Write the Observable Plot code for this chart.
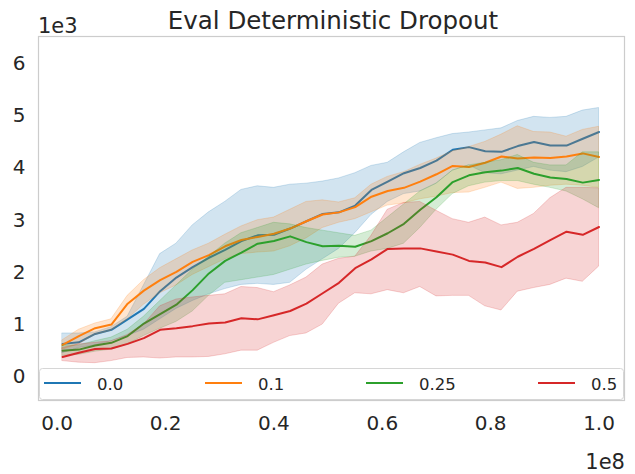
<!DOCTYPE html>
<html><head><meta charset="utf-8">
<script src="https://cdn.jsdelivr.net/npm/d3@7"></script>
<script src="https://cdn.jsdelivr.net/npm/@observablehq/plot@0.6"></script>
<style>
html,body{margin:0;padding:0;background:#fff;}
#chart{width:635px;height:474px;}
</style></head><body><div id="chart"></div>
<script>
// x: environment steps in units of 1e8; y: return in units of 1e3
const steps = [0.01,0.04,0.07,0.10,0.13,0.16,0.19,0.22,0.25,0.28,0.31,0.34,0.37,0.40,0.43,0.46,0.49,0.52,0.55,0.58,0.61,0.64,0.67,0.70,0.73,0.76,0.79,0.82,0.85,0.88,0.91,0.94,0.97,1.00];

const seriesNames = ["0.0","0.1","0.25","0.5"];
const seriesColors = ["#1f77b4","#ff7f0e","#2ca02c","#d62728"];

const mean00 = [0.63,0.66,0.82,0.90,1.10,1.30,1.64,1.90,2.10,2.28,2.43,2.60,2.71,2.72,2.84,2.98,3.12,3.15,3.28,3.58,3.74,3.90,4.00,4.14,4.35,4.40,4.32,4.31,4.42,4.50,4.43,4.43,4.56,4.69];
const high00 = [0.83,0.83,0.85,0.95,1.15,1.75,2.35,2.55,2.90,3.15,3.35,3.58,3.65,3.62,3.68,3.70,3.74,3.80,3.90,4.04,4.10,4.30,4.48,4.57,4.65,4.68,4.72,4.76,4.90,4.98,4.96,4.98,5.10,5.15];
const low00  = [0.45,0.55,0.60,0.68,0.78,0.90,1.10,1.30,1.45,1.58,1.68,1.76,1.78,1.76,1.80,2.05,2.25,2.45,2.75,3.10,3.35,3.50,3.55,3.70,3.95,4.05,3.90,3.88,3.95,4.02,3.95,3.92,4.02,4.20];

const mean01 = [0.61,0.78,0.93,1.00,1.40,1.65,1.85,2.01,2.20,2.33,2.50,2.62,2.68,2.74,2.84,2.98,3.11,3.15,3.25,3.45,3.56,3.62,3.74,3.88,4.04,4.02,4.10,4.22,4.18,4.20,4.19,4.22,4.28,4.21];
const high01 = [0.70,0.90,1.02,1.10,1.55,1.85,2.08,2.25,2.42,2.55,2.72,2.88,3.00,3.05,3.20,3.35,3.38,3.34,3.42,3.68,3.83,3.92,4.06,4.18,4.32,4.40,4.50,4.64,4.80,4.69,4.68,4.60,4.73,4.79];
const low01  = [0.52,0.62,0.80,0.88,1.10,1.38,1.60,1.75,1.95,2.10,2.25,2.35,2.38,2.40,2.50,2.65,2.85,2.95,3.02,3.15,3.28,3.32,3.40,3.45,3.52,3.53,3.62,3.72,3.60,3.62,3.66,3.68,3.66,3.62];

const mean025 = [0.50,0.52,0.60,0.65,0.78,1.02,1.20,1.38,1.66,1.98,2.22,2.38,2.55,2.60,2.69,2.58,2.50,2.51,2.49,2.60,2.75,2.93,3.20,3.44,3.73,3.86,3.92,3.95,4.00,3.89,3.82,3.79,3.72,3.77];
const high025 = [0.60,0.60,0.68,0.75,0.90,1.15,1.45,1.75,2.05,2.30,2.55,2.75,2.85,2.95,2.92,2.85,2.80,2.75,2.70,2.80,3.05,3.30,3.55,3.70,3.95,4.05,4.10,4.15,4.25,4.10,4.05,4.05,4.30,4.30];
const low025  = [0.40,0.42,0.48,0.52,0.62,0.78,0.92,1.05,1.25,1.55,1.80,1.85,1.90,1.95,2.05,2.15,2.22,2.28,2.30,2.40,2.45,2.55,2.85,3.20,3.50,3.65,3.72,3.75,3.75,3.68,3.62,3.55,3.40,3.23];

const mean05 = [0.38,0.46,0.53,0.54,0.63,0.74,0.90,0.93,0.97,1.02,1.04,1.12,1.10,1.18,1.26,1.40,1.60,1.80,2.08,2.25,2.45,2.46,2.46,2.40,2.34,2.22,2.19,2.10,2.30,2.45,2.62,2.78,2.72,2.87];
const high05 = [0.55,0.62,0.65,0.68,0.80,1.00,1.35,1.48,1.52,1.55,1.58,1.72,1.70,1.62,1.75,1.90,2.15,2.26,2.30,2.70,3.20,3.33,3.35,3.18,3.02,2.95,3.05,2.90,2.95,3.12,3.42,3.62,3.62,3.61];
const low05  = [0.30,0.27,0.26,0.30,0.36,0.37,0.35,0.37,0.37,0.38,0.43,0.50,0.50,0.65,0.78,0.83,1.00,1.40,1.60,1.58,1.66,1.60,1.72,1.54,1.55,1.55,1.35,1.27,1.63,1.70,1.76,1.88,1.82,2.11];

const xTicks = [0,0.2,0.4,0.6,0.8,1.0];
const yTicks = [0,1,2,3,4,5,6];
const titleText = "Eval Deterministic Dropout";
const xExponent = "1e8";
const yExponent = "1e3";

const seriesMeans = [mean00, mean01, mean025, mean05];
const seriesHighs = [high00, high01, high025, high05];
const seriesLows  = [low00, low01, low025, low05];

const rows = [];
seriesNames.forEach((name, s) => {
  steps.forEach((x, i) => {
    rows.push({series: name, x, mean: seriesMeans[s][i], lo: seriesLows[s][i], hi: seriesHighs[s][i]});
  });
});

const marks = [];
seriesNames.forEach((name, s) => {
  const d = rows.filter(r => r.series === name);
  marks.push(Plot.areaY(d, {x: "x", y1: "lo", y2: "hi", fill: seriesColors[s], fillOpacity: 0.2,
    stroke: seriesColors[s], strokeOpacity: 0.2, strokeWidth: 1}));
  marks.push(Plot.lineY(d, {x: "x", y: "mean", stroke: seriesColors[s], strokeWidth: 2}));
});

const plot = Plot.plot({
  width: 635, height: 474,
  marginLeft: 38, marginRight: 11, marginTop: 36, marginBottom: 74,
  style: {fontFamily: "DejaVu Sans", fontSize: "20px", color: "#262626", background: "#fff"},
  x: {domain: [-0.0345, 1.047]},
  y: {domain: [-0.455, 6.52]},
  marks: [
    ...marks,
    Plot.axisX({ticks: xTicks, tickSize: 0, tickPadding: 15, tickFormat: d3.format(".1f"), label: null}),
    Plot.axisY({ticks: yTicks, tickSize: 0, tickPadding: 13, tickFormat: d3.format("d"), label: null}),
    Plot.frame({stroke: "#cccccc", strokeWidth: 1.2})
  ]
});
document.getElementById("chart").appendChild(plot);

const svg = d3.select(plot);
const txt = "#262626";
svg.append("text").attr("x", 333).attr("y", 29).attr("text-anchor", "middle")
  .attr("font-size", 24.5).attr("fill", txt).text(titleText);
svg.append("text").attr("x", 38).attr("y", 33).attr("text-anchor", "start")
  .attr("font-size", 21).attr("fill", txt).text(yExponent);
svg.append("text").attr("x", 625).attr("y", 469).attr("text-anchor", "end")
  .attr("font-size", 21).attr("fill", txt).text(xExponent);

// legend (inside the axes, bottom, 4 columns expanded)
const lg = svg.append("g");
lg.append("rect").attr("x", 39.5).attr("y", 368.5).attr("width", 584).attr("height", 31)
  .attr("rx", 3).attr("fill", "#fff").attr("fill-opacity", 0.8).attr("stroke", "#d6d6d6");
const handleX = [44, 205, 366, 538];
seriesNames.forEach((name, s) => {
  lg.append("line").attr("x1", handleX[s]).attr("x2", handleX[s] + 37)
    .attr("y1", 383).attr("y2", 383).attr("stroke", seriesColors[s]).attr("stroke-width", 2);
  lg.append("text").attr("x", handleX[s] + 53).attr("y", 389.5).attr("text-anchor", "start")
    .attr("font-size", 16.5).attr("fill", txt).text(name);
});
</script></body></html>
